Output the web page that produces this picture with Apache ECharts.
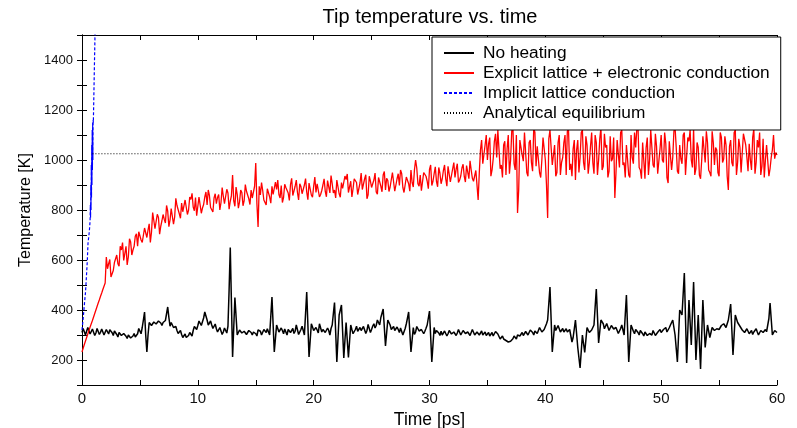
<!DOCTYPE html>
<html>
<head>
<meta charset="utf-8">
<script src="https://cdn.jsdelivr.net/npm/echarts@6/dist/echarts.min.js"></script>
<style>
html,body{margin:0;padding:0;background:#fff;}
#chart{width:797px;height:428px;}
</style>
</head>
<body>
<div id="chart"></div>
<script>
// Sampling step of the time series [ps]
const timeStep = 0.2;

// No heating (black): values at t = 0, 0.2, ..., 60 ps
const noHeating = [
310,318,305,322,312, 316,308,320,311,317, 305,314,321,309,316, 302,310,298,306,295,
300,288,296,292,305, 318,330,392,232,350, 338,352,344,356,348, 350,358,412,335,340,
325,318,310,302,296, 290,298,306,318,330, 338,352,345,392,360, 348,340,335,325,318,
322,312,318,335,650, 212,450,300,320,308, 315,302,318,310,312, 305,320,315,308,318,
325,300,452,232,340, 312,328,305,318,322, 310,326,315,332,310, 335,300,472,212,345,
318,330,308,338,322, 310,328,300,340,430, 192,380,420,208,350, 210,340,305,322,315,
330,312,340,318,335, 322,345,338,352,370, 404,256,360,340,325, 318,332,310,325,308,
345,392,232,330,312, 325,308,320,315,340, 396,192,330,318,308, 315,302,318,305,312,
300,315,308,318,304, 312,298,320,306,314, 302,318,308,300,312, 305,296,310,300,315,
298,290,284,278,272, 275,285,292,300,296, 310,302,318,306,314, 300,312,318,325,315,
330,360,492,232,340, 322,330,318,312,325, 305,318,290,360,250, 168,300,230,330,310,
320,340,484,268,360, 345,330,338,322,330, 318,325,312,340,300, 460,192,340,315,322,
310,318,305,312,298, 306,300,312,305,318, 310,322,330,318,340, 360,300,192,400,380,
548,188,440,260,512, 200,380,164,440,250, 340,290,330,318,325, 322,338,345,330,360,
424,220,380,350,335, 320,310,325,305,318, 312,325,300,318,310, 322,305,428,300,318,
310
];
// No heating (black): values at the in-between times t = 0.1, 0.3, ..., 59.9 ps
const noHeatingMid = [
326,300,330,304,324, 298,326,302,324,300, 322,304,318,298,320, 292,314,290,310,286,
304,284,306,290,326, 305,360,300,300,356, 330,360,336,362,338, 342,385,370,350,330,
334,306,318,290,304, 282,310,296,334,322, 356,338,368,376,340, 356,326,344,312,330,
302,328,308,480,430, 330,375,300,326,300, 322,298,324,300,318, 296,326,300,322,310,
312,376,342,286,326, 304,318,324,300,330, 318,306,340,302,322, 318,386,342,278,332,
310,320,345,312,330, 302,318,326,385,311, 286,400,314,279,280, 275,322,313,335,310,
318,334,306,342,310, 336,328,360,340,387, 330,308,350,322,334, 310,322,328,300,326,
368,312,281,302,334, 316,322,305,327,368, 294,261,306,326,298, 300,316,296,318,304,
312,298,322,300,318, 306,312,298,322,300, 312,300,316,308,298, 310,304,296,314,304,
284,296,276,286,266, 282,296,284,306,300, 298,314,300,320,310, 316,306,330,312,322,
345,426,362,286,318, 338,312,326,318,312, 322,272,325,305,209, 234,265,280,320,305,
330,412,376,314,352, 325,346,318,338,324, 330,306,326,320,380, 326,266,328,305,320,
300,314,296,318,292, 300,318,298,311,322, 316,326,312,329,350, 330,246,296,390,464,
368,314,350,386,356, 290,272,302,345,295, 315,310,324,310,332, 330,342,338,345,392,
322,300,365,342,328, 326,318,315,311,302, 318,312,309,324,316, 313,366,364,309,314
];

// Explicit lattice + electronic conduction (red): values at t = 0, 0.2, ..., 60 ps
const explicitLattice = [
232,262,290,318,345, 372,400,428,455,482, 508,565,602,528,590, 620,575,640,598,655,
612,672,640,695,655, 705,670,728,690,745, 712,758,725,770,735, 782,748,795,760,805,
772,818,785,828,795, 838,800,842,812,850, 815,845,808,852,820, 858,818,848,825,862,
830,855,820,868,835, 940,815,862,832,870, 838,875,845,880,850, 988,732,860,878,845,
885,852,895,858,882, 862,898,850,890,868, 902,858,895,870,905, 865,900,872,908,860,
895,870,912,862,900, 875,918,868,905,880, 920,865,910,878,922, 870,915,885,928,862,
908,882,925,845,935, 890,920,872,930,895, 940,880,918,892,950, 875,925,898,945,870,
932,905,960,892,1000, 905,940,880,950,915, 962,898,945,915,970, 905,958,925,975,912,
965,930,985,920,968, 935,978,925,960,915, 958,840,1040,985,1060, 1000,1090,960,1075,1010,
1120,980,1060,940,1100, 1000,1130,960,788,1080, 1020,1110,950,1070,990, 1130,975,1050,930,1090,
1000,768,1120,980,1060, 950,1100,990,1070,940, 1125,985,1045,920,1080, 1010,1120,960,1060,990,
1110,945,1070,1000,1130, 975,1050,930,1095,1005, 848,1080,970,1120,990, 1060,940,1100,985,1050,
1135,960,1070,925,1090, 1000,1125,970,1055,940, 1100,990,1065,908,1080, 1010,1130,955,1060,985,
1110,940,1075,1000,1125, 965,1050,925,1095,990, 1070,950,1115,980,1040, 935,1090,1005,1060,880,
1080,975,1120,990,1050, 945,1100,1010,1065,960, 1125,990,1050,940,1085, 1000,1060,965,1040,1005,
1020
];
// Explicit lattice + electronic conduction (red): values at t = 0.1, 0.3, ..., 59.9 ps
const explicitLatticeMid = [
247,276,304,332,358, 386,414,441,468,495, 612,585,532,558,605, 585,655,670,600,580,
685,620,655,705,713, 680,662,735,720,670, 790,725,783,703,757, 763,818,733,806,743,
847,820,767,793,840, 782,852,867,797,777, 852,787,822,872,880, 810,792,865,850,800,
890,825,883,803,857, 837,892,807,880,817, 902,875,822,848,895, 825,895,910,840,820,
892,827,862,912,920, 848,830,903,888,838, 927,862,920,840,894, 871,926,841,914,851,
932,905,852,878,925, 853,923,938,868,848, 916,851,886,936,944, 870,852,925,910,860,
948,883,941,861,915, 893,948,863,936,873, 954,927,874,900,947, 875,945,960,890,870,
940,875,910,960,968, 895,877,950,935,885, 980,915,973,893,947, 925,980,895,968,905,
990,963,910,936,983, 912,982,997,927,907, 900,950,1080,990,1100, 1065,935,1005,1105,1120,
965,930,1075,1045,945, 1115,985,1100,880,1050, 995,1105,935,1080,955, 1110,1055,950,1000,1095,
900,1085,1115,975,935, 1070,940,1010,1100,1115, 960,935,1080,1040,950, 1110,990,1095,945,1055,
990,1100,940,1085,960, 1105,1060,955,995,1090, 950,1080,1110,980,930, 1060,930,1010,1110,1125,
970,925,1070,1050,940, 1120,980,1105,945,1045, 1000,1110,930,1075,960, 1115,1050,945,1005,1100,
940,1090,1120,970,940, 1070,940,1000,1100,1115, 960,935,1070,1050,950, 1110,990,1095,935,1055,
990,1110,940,1085,950, 1105,1060,955,1000,1090, 945,1080,1110,975,930, 1060,935,1010,1100,1030
];

// Implicit lattice conduction (blue): time [ps] and temperature [K]
const implicitTime = [0, 0.1, 0.2, 0.3, 0.35, 0.45, 0.52, 0.6, 0.66, 0.7, 0.72, 0.74, 0.76, 0.78, 0.8, 0.82, 0.84, 0.86, 0.88, 0.9, 0.92, 0.94, 0.96, 0.98, 1.13];
const implicitTemp = [320, 365, 420, 470, 508, 590, 668, 700, 730, 760, 820, 770, 900, 800, 980, 850, 1060, 900, 1120, 960, 1150, 1000, 1160, 1150, 1520];

// Analytical equilibrium (dotted)
const equilibriumTime = [0.9, 60];
const equilibriumTemp = [1025, 1025];

const seriesNames = ['No heating', 'Explicit lattice + electronic conduction', 'Implicit lattice conduction', 'Analytical equilibrium'];
const titleText = 'Tip temperature vs. time';
const xName = 'Time [ps]';
const yName = 'Temperature [K]';

const pairs = (xs, ys) => ys.map((v, i) => [xs[i], v]);
// interleave the values on the 0.2 ps grid with the in-between values
const sampled = (ys, mids) => {
  const out = [];
  ys.forEach((v, i) => {
    out.push([+(i * timeStep).toFixed(2), v]);
    if (i < mids.length) out.push([+((i + 0.5) * timeStep).toFixed(2), mids[i]]);
  });
  return out;
};

const FONT = '"Liberation Sans", Arial, Helvetica, sans-serif';
const chart = echarts.init(document.getElementById('chart'), null, {renderer: 'canvas'});

const tickStyle = {show: true, inside: true, length: 5, lineStyle: {color: '#000', width: 1}};
const axisLine = {show: true, lineStyle: {color: '#000', width: 1}};

chart.setOption({
  animation: false,
  backgroundColor: '#fff',
  graphic: [{
    type: 'text', x: 430, y: 17,
    style: {text: titleText, font: '20px ' + FONT, fill: '#000', textAlign: 'center', textVerticalAlign: 'middle'}
  }],
  legend: {
    orient: 'vertical', left: 432, top: 37,
    data: seriesNames,
    selectedMode: false,
    itemWidth: 30, itemHeight: 14, itemGap: 0,
    padding: [6, 11, 7, 11],
    backgroundColor: '#fff', borderColor: '#000', borderWidth: 1, borderRadius: 0,
    itemStyle: {color: 'rgba(0,0,0,0)', borderColor: 'rgba(0,0,0,0)', borderWidth: 0},
    textStyle: {fontFamily: FONT, fontSize: 17.3, color: '#000', lineHeight: 20, padding: [0, 0, 0, 4]},
    z: 10
  },
  grid: {left: 82, right: 20, top: 35, bottom: 43, containLabel: false, outerBoundsMode: 'none'},
  xAxis: [{
    type: 'value', min: 0, max: 60, interval: 5,
    name: xName, nameLocation: 'middle', nameGap: 18,
    nameTextStyle: {fontFamily: FONT, fontSize: 17.5, color: '#000'},
    axisLine: axisLine, axisTick: tickStyle, splitLine: {show: false},
    axisLabel: {fontFamily: FONT, fontSize: 15, color: '#111', margin: 6,
      formatter: v => (v % 10 === 0 ? String(v) : '')}
  }, {
    type: 'value', position: 'top', min: 0, max: 60, interval: 5,
    axisLine: axisLine, axisTick: tickStyle, splitLine: {show: false}, axisLabel: {show: false}
  }],
  yAxis: [{
    type: 'value', min: 100, max: 1500, interval: 100,
    name: yName, nameLocation: 'middle', nameGap: 39,
    nameTextStyle: {fontFamily: FONT, fontSize: 16, color: '#000'},
    axisLine: axisLine, axisTick: tickStyle, splitLine: {show: false},
    axisLabel: {fontFamily: FONT, fontSize: 13, color: '#111', margin: 9,
      formatter: v => (v % 200 === 0 ? String(v) : '')}
  }, {
    type: 'value', position: 'right', min: 100, max: 1500, interval: 100,
    axisLine: axisLine, axisTick: tickStyle, splitLine: {show: false}, axisLabel: {show: false}
  }],
  series: [{
    name: seriesNames[0], type: 'line', symbol: 'none', clip: true,
    data: sampled(noHeating, noHeatingMid),
    lineStyle: {color: '#000', width: 1.5}, itemStyle: {color: '#000'}
  }, {
    name: seriesNames[1], type: 'line', symbol: 'none', clip: true,
    data: sampled(explicitLattice, explicitLatticeMid),
    lineStyle: {color: '#ff0000', width: 1.3}, itemStyle: {color: '#ff0000'}
  }, {
    name: seriesNames[2], type: 'line', symbol: 'none', clip: true,
    data: pairs(implicitTime, implicitTemp),
    lineStyle: {color: '#0000ff', width: 1.2, type: [3, 2]}, itemStyle: {color: '#0000ff'}
  }, {
    name: seriesNames[3], type: 'line', symbol: 'none', clip: true,
    data: pairs(equilibriumTime, equilibriumTemp),
    lineStyle: {color: '#000', width: 1, type: [1, 2]}, itemStyle: {color: '#000'}
  }]
});
</script>
</body>
</html>
